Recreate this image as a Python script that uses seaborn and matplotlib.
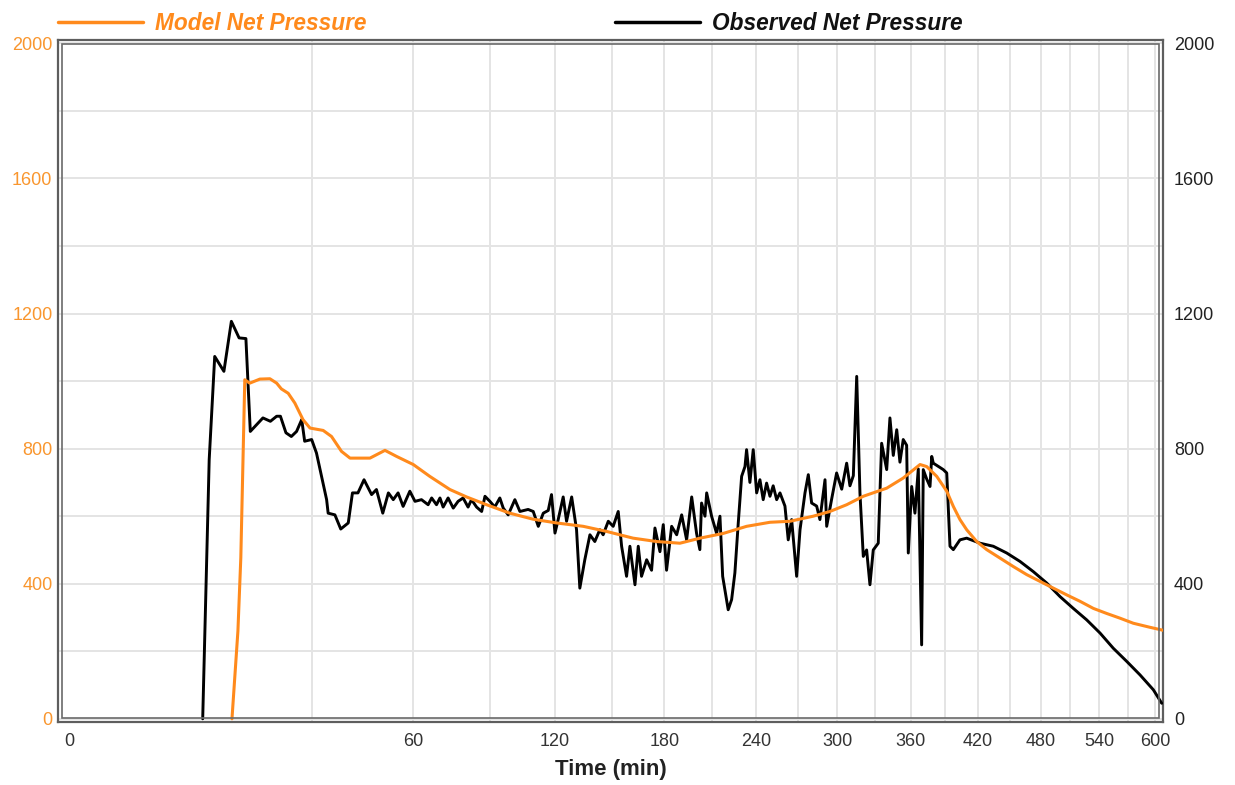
import numpy as np
import pandas as pd
import seaborn as sns
import matplotlib
matplotlib.use("Agg")
import matplotlib.pyplot as plt
from matplotlib.ticker import FixedLocator, MultipleLocator
from matplotlib.lines import Line2D
from matplotlib.patches import Rectangle
import matplotlib.transforms as mtransforms

# observed net pressure (time in min, pressure)
obs_time = [9.0, 9.9, 10.7, 12.1, 13.3, 14.6, 15.8, 16.6, 19.0, 20.5, 21.8, 22.6, 23.8, 25.0,
            26.2, 27.4, 28.1, 29.8, 31.0, 33.6, 34.0, 35.8, 37.4, 39.5, 40.7, 42.3, 44.1, 46.4,
            47.9, 49.9, 51.7, 53.3, 54.9, 56.6, 58.9, 60.7, 63.0, 65.4, 66.7, 68.5, 69.8, 71.0,
            72.9, 74.9, 76.8, 78.8, 80.8, 82.2, 84.3, 86.4, 87.8, 89.9, 92.0, 94.2, 95.7, 97.9,
            100.9, 103.2, 107.0, 109.4, 111.8, 114.2, 116.6, 118.2, 119.9, 121.5, 124.0, 125.7,
            128.3, 130.8, 132.5, 135.1, 137.8, 140.4, 143.1, 144.9, 147.7, 150.4, 153.2, 155.1,
            157.9, 159.8, 162.7, 164.6, 166.5, 169.5, 172.4, 174.4, 177.4, 179.4, 181.4, 184.5,
            187.6, 190.7, 193.8, 197.0, 200.1, 202.2, 203.3, 205.5, 206.6, 209.8, 213.1, 215.3,
            217.1, 220.8, 223.1, 225.3, 227.6, 229.9, 232.2, 233.3, 235.6, 237.9, 240.3, 242.6,
            244.9, 247.3, 249.7, 252.0, 254.5, 256.9, 260.5, 262.9, 265.4, 269.1, 271.6, 275.3,
            277.8, 280.3, 284.1, 286.6, 290.5, 291.8, 295.6, 299.5, 303.5, 307.4, 310.0, 312.7,
            315.4, 318.0, 320.7, 323.4, 326.1, 328.8, 332.9, 335.7, 339.9, 342.6, 345.4, 348.3,
            351.0, 353.8, 356.7, 358.1, 361.0, 363.8, 366.7, 369.6, 371.0, 374.0, 376.9, 378.4,
            379.8, 388.6, 391.7, 394.6, 397.6, 403.6, 409.7, 422.0, 434.4, 447.1, 459.9, 472.8,
            486.1, 499.4, 512.9, 526.7, 540.6, 554.6, 569.0, 583.4, 598.0, 607.3]
obs_pressure = [0, 767, 1073, 1029, 1177, 1128, 1126, 851, 891, 881, 896, 896, 847, 836,
                851, 886, 822, 827, 787, 649, 609, 604, 562, 580, 669, 669, 708, 664,
                679, 609, 669, 649, 669, 629, 674, 644, 649, 634, 654, 634, 654, 627,
                654, 624, 644, 654, 627, 649, 627, 614, 659, 644, 627, 654, 624, 604,
                649, 614, 620, 614, 570, 609, 617, 664, 550, 590, 657, 585,
                657, 560, 387, 471, 545, 525, 560, 545, 585, 570, 614, 511,
                422, 511, 397, 511, 422, 471, 440, 565, 495, 575, 440, 570,
                545, 604, 530, 657, 549, 501, 639, 600, 669, 600, 549, 600,
                422, 323, 353, 432, 580, 718, 747, 797, 700, 797, 669, 708,
                649, 698, 659, 690, 649, 669, 630, 530, 590, 422, 560, 669,
                723, 639, 630, 590, 708, 570, 650, 728, 680, 757, 690, 720,
                1014, 669, 481, 500, 397, 500, 520, 816, 738, 891, 780, 856,
                760, 827, 810, 491, 688, 609, 740, 219, 738, 710, 688, 777,
                757, 738, 728, 511, 501, 530, 535, 520, 511, 491, 466, 436,
                402, 362, 327, 293, 254, 209, 170, 130, 86, 46]

# model net pressure
model_time = [13.4, 14.4, 14.9, 15.6, 16.5, 18.4, 20.4, 21.8, 22.8, 24.3, 25.8, 27.7, 29.4,
              32.7, 34.9, 37.6, 40.0, 45.9, 50.6, 54.4, 60.1, 66.0, 73.6, 80.2, 88.5, 98.6,
              109.4, 120.7, 134.3, 146.7, 161.6, 175.4, 189.6, 202.3, 217.5, 233.3, 249.7,
              264.2, 281.5, 294.3, 307.4, 320.7, 339.9, 353.8, 368.2, 374.0, 382.8, 391.7,
              397.6, 403.6, 409.7, 418.9, 428.2, 440.7, 453.4, 466.4, 479.4, 492.7, 506.2,
              519.8, 533.6, 547.6, 561.8, 576.1, 594.3, 609.1]
model_pressure = [0, 260, 477, 1004, 994, 1006, 1007, 994, 977, 964, 935, 886, 861,
                  854, 836, 792, 772, 772, 795, 777, 753, 718, 679, 657, 634, 609,
                  591, 580, 570, 555, 535, 525, 520, 535, 549, 570, 582,
                  585, 600, 614, 634, 659, 683, 713, 753, 747, 718, 674,
                  629, 590, 560, 525, 501, 476, 451, 427, 407, 387, 367,
                  348, 327, 312, 298, 283, 271, 262]

x_ticks = [0, 60, 120, 180, 240, 300, 360, 420, 480, 540, 600]
y_ticks = [0, 400, 800, 1200, 1600, 2000]

orange = "#FF8A1C"
orange_txt = "#F9962E"

sns.set_theme(style="white")
plt.rcParams["font.family"] = ["Liberation Sans", "DejaVu Sans"]

obs = pd.DataFrame({"time": obs_time, "pressure": obs_pressure})
model = pd.DataFrame({"time": model_time, "pressure": model_pressure})

fig = plt.figure(figsize=(12.35, 7.85), dpi=100)
ax = fig.add_axes([0.047, 0.080, 0.8947, 0.869])

# square-root time axis
def fwd(x):
    return np.sign(x) * np.sqrt(np.abs(x))

def inv(y):
    return np.sign(y) * y ** 2

ax.set_xscale("function", functions=(fwd, inv))

sns.lineplot(data=obs, x="time", y="pressure", ax=ax, color="black", lw=2.1,
             sort=False, estimator=None, zorder=3)
sns.lineplot(data=model, x="time", y="pressure", ax=ax, color=orange, lw=2.2,
             sort=False, estimator=None, zorder=4)

ax.set_xlim(-0.07, 608.7)
ax.set_ylim(-10, 2010)
ax.xaxis.set_major_locator(FixedLocator(x_ticks))
ax.xaxis.set_minor_locator(FixedLocator(list(range(30, 601, 60))))
ax.yaxis.set_major_locator(FixedLocator(y_ticks))
ax.yaxis.set_minor_locator(MultipleLocator(200))
ax.set_xticklabels([str(t) for t in x_ticks])
ax.grid(True, which="both", color="#e4e4e4", lw=1.4)
ax.set_axisbelow(True)
ax.xaxis.get_major_ticks()[0].gridline.set_visible(False)
ax.tick_params(axis="both", which="both", length=0, labelsize=13)
ax.tick_params(axis="x", colors="#333333", pad=8)
ax.tick_params(axis="y", colors=orange_txt, pad=4)
ax.set_xlabel("Time (min)", fontsize=16, fontweight="bold", color="#222222", labelpad=6)
ax.set_ylabel("")

ax2 = ax.twinx()
ax2.set_ylim(-10, 2010)
ax2.yaxis.set_major_locator(FixedLocator(y_ticks))
ax2.tick_params(axis="y", length=0, labelsize=13, colors="#222222", pad=8)
ax2.grid(False)
for s in ax2.spines.values():
    s.set_visible(False)

# double frame
for s in ax.spines.values():
    s.set_color("#5e5e5e")
    s.set_linewidth(1.6)
inset = mtransforms.offset_copy(ax.transAxes, fig=fig, x=4, y=4, units="dots")
ax.add_patch(Rectangle((0, 0), 1 - 8 / 1105, 1 - 8 / 682, transform=inset, fill=False,
                       ec="#6a6a6a", lw=1.2, zorder=5, clip_on=False))

handles = [Line2D([], [], color=orange, lw=2.5), Line2D([], [], color="black", lw=2.5)]
leg = ax.legend(handles, ["Model Net Pressure", "Observed Net Pressure"], ncol=2,
                loc="lower left", bbox_to_anchor=(0.0, 1.008), frameon=False,
                borderaxespad=0, borderpad=0, handlelength=3.75, handletextpad=0.53,
                columnspacing=11.0, prop={"weight": "bold", "style": "italic", "size": 16.3})
leg.get_texts()[0].set_color(orange)
leg.get_texts()[1].set_color("#111111")

fig.savefig("out.png", dpi=100)
